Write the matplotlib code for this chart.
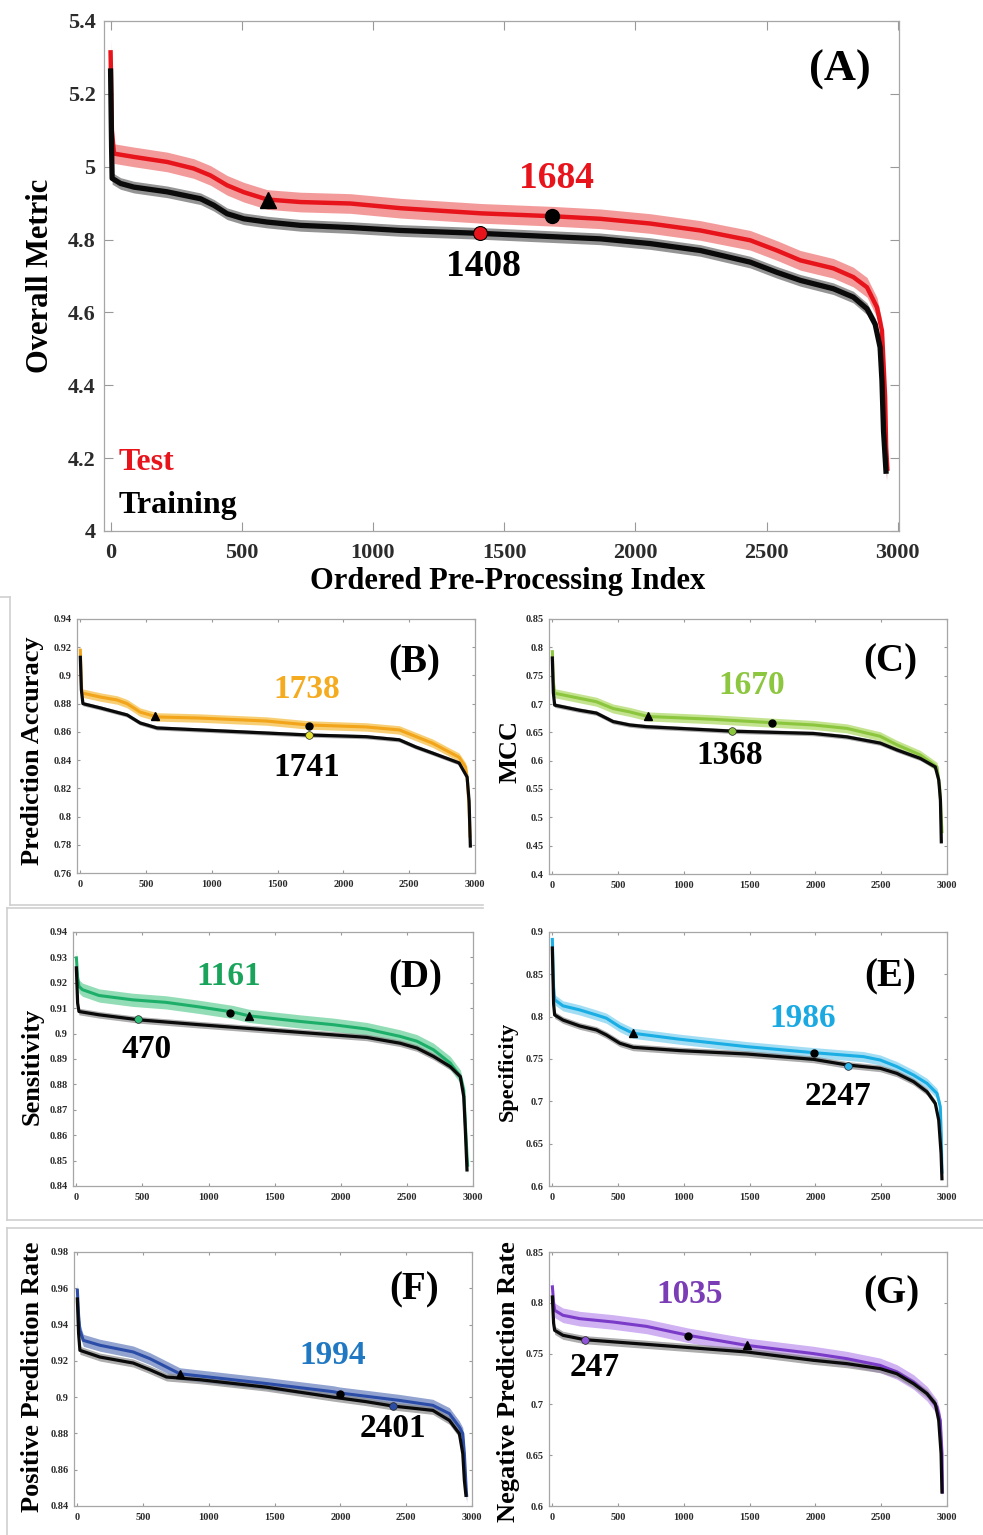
import numpy as np
import matplotlib.pyplot as plt
import matplotlib as mpl
from matplotlib.lines import Line2D
from matplotlib.ticker import FuncFormatter, MultipleLocator

mpl.rcParams['font.family'] = ['Liberation Serif', 'DejaVu Serif']
mpl.rcParams['font.weight'] = 'bold'
mpl.rcParams['axes.labelweight'] = 'bold'

W, H = 983, 1535

# ---- (A) overall metric ----
a_test_idx = [0, 5, 13, 88, 216, 317, 381, 444, 508, 597, 724, 914, 1107, 1412, 1687, 1867,
              2057, 2248, 2438, 2540, 2629, 2755, 2831, 2883, 2921, 2940, 2946, 2952, 2956, 2961]
a_test_val = [5.32, 5.10, 5.036, 5.027, 5.013, 4.995, 4.976, 4.949, 4.93, 4.910, 4.903, 4.899,
              4.886, 4.872, 4.864, 4.857, 4.844, 4.825, 4.798, 4.770, 4.743, 4.721, 4.697, 4.669,
              4.614, 4.55, 4.46, 4.367, 4.229, 4.165]
a_train_idx = [0, 4, 6, 38, 89, 216, 343, 394, 444, 508, 597, 724, 914, 1105, 1410, 1867, 2057,
               2248, 2438, 2540, 2629, 2755, 2831, 2883, 2914, 2933, 2940, 2946, 2956]
a_train_val = [5.27, 5.05, 4.968, 4.954, 4.944, 4.931, 4.912, 4.894, 4.871, 4.857, 4.848, 4.839,
               4.833, 4.825, 4.817, 4.802, 4.789, 4.77, 4.738, 4.710, 4.688, 4.665, 4.642, 4.61,
               4.568, 4.504, 4.413, 4.275, 4.157]
a_err = [0.027, 0.016]

# ---- (B) prediction accuracy ----
b_test_idx = [0, 8, 12, 152, 280, 356, 455, 583, 909, 1414, 1735, 2172, 2424, 2677, 2879, 2929,
              2940, 2955, 2962]
b_test_val = [0.919, 0.895, 0.8876, 0.8847, 0.8826, 0.880, 0.874, 0.8706, 0.8698, 0.8677, 0.8649,
              0.8635, 0.8614, 0.852, 0.842, 0.835, 0.828, 0.807, 0.785]
b_train_idx = [0, 8, 20, 152, 356, 455, 583, 909, 1735, 2172, 2424, 2550, 2677, 2879, 2940, 2955,
               2965]
b_train_val = [0.914, 0.89, 0.880, 0.877, 0.872, 0.8663, 0.8628, 0.8614, 0.8578, 0.8566, 0.8544,
               0.8493, 0.845, 0.838, 0.828, 0.811, 0.778]
b_err = [0.003, 0.0015]

# ---- (C) MCC ----
c_test_idx = [0, 8, 18, 208, 335, 462, 589, 726, 1223, 1673, 1985, 2238, 2492, 2619, 2797, 2924,
              2944, 2950, 2962]
c_test_val = [0.795, 0.74, 0.719, 0.710, 0.704, 0.692, 0.686, 0.678, 0.673, 0.667, 0.663, 0.657,
              0.643, 0.628, 0.610, 0.589, 0.554, 0.531, 0.472]
c_train_idx = [0, 8, 18, 208, 335, 462, 589, 716, 1376, 1985, 2238, 2492, 2619, 2797, 2911, 2937,
               2950, 2957]
c_train_val = [0.784, 0.72, 0.698, 0.689, 0.684, 0.669, 0.663, 0.660, 0.652, 0.648, 0.642, 0.631,
               0.619, 0.604, 0.589, 0.566, 0.531, 0.454]
c_err = [0.008, 0.004]

# ---- (D) sensitivity ----
d_test_idx = [0, 10, 20, 46, 172, 425, 678, 931, 1184, 1305, 1690, 1943, 2196, 2449, 2576, 2702,
              2828, 2904, 2930, 2942, 2955, 2960]
d_test_val = [0.9304, 0.922, 0.9186, 0.9173, 0.915, 0.9133, 0.9123, 0.9105, 0.9085, 0.907, 0.9048,
              0.9035, 0.9018, 0.8989, 0.897, 0.8936, 0.8884, 0.8831, 0.8778, 0.8647, 0.8516,
              0.8476]
d_train_idx = [0, 10, 20, 172, 476, 931, 1437, 1943, 2196, 2449, 2576, 2702, 2828, 2904, 2930,
               2942, 2955]
d_train_val = [0.9265, 0.912, 0.9087, 0.9074, 0.9054, 0.9035, 0.9015, 0.8995, 0.8985, 0.8962,
               0.8943, 0.891, 0.887, 0.8831, 0.8752, 0.8621, 0.8457]
d_err = [0.0026, 0.0013]

# ---- (E) specificity ----
e_test_idx = [0, 10, 18, 81, 208, 335, 411, 513, 614, 970, 1477, 1985, 2365, 2492, 2619, 2746,
              2848, 2924, 2949, 2956, 2962]
e_test_val = [0.893, 0.835, 0.820, 0.8128, 0.808, 0.802, 0.7982, 0.788, 0.7804, 0.7733, 0.7646,
              0.7575, 0.7528, 0.7488, 0.741, 0.731, 0.7212, 0.7093, 0.6936, 0.662, 0.6146]
e_train_idx = [0, 10, 18, 81, 208, 335, 411, 513, 614, 970, 1477, 1985, 2239, 2492, 2619, 2746,
               2848, 2911, 2937, 2955, 2962]
e_train_val = [0.883, 0.815, 0.802, 0.796, 0.789, 0.7843, 0.7784, 0.7686, 0.7638, 0.7599, 0.7559,
               0.7496, 0.743, 0.739, 0.733, 0.7232, 0.7113, 0.6975, 0.6778, 0.6383, 0.6067]
e_err = [0.006, 0.004]

# ---- (F) positive prediction rate ----
f_test_idx = [0, 10, 20, 46, 172, 425, 552, 678, 779, 1437, 1943, 1994, 2449, 2702, 2828, 2904,
              2930, 2942, 2955, 2960]
f_test_val = [0.9598, 0.945, 0.9368, 0.9313, 0.9286, 0.9249, 0.9212, 0.9166, 0.9129, 0.9075,
              0.903, 0.9023, 0.8982, 0.8955, 0.8909, 0.8835, 0.8799, 0.8689, 0.8505, 0.845]
f_train_idx = [0, 10, 20, 172, 425, 552, 678, 931, 1437, 1943, 2196, 2398, 2702, 2828, 2904, 2930,
               2942, 2955]
f_train_val = [0.955, 0.935, 0.9258, 0.9221, 0.9188, 0.9151, 0.9111, 0.9096, 0.9055, 0.900,
               0.8975, 0.8951, 0.8927, 0.8872, 0.8799, 0.8688, 0.8541, 0.845]
f_err = [0.0033, 0.0022]

# ---- (G) negative prediction rate ----
g_test_idx = [0, 10, 18, 81, 208, 462, 716, 1033, 1477, 1985, 2239, 2492, 2619, 2746, 2848, 2924,
              2949, 2962, 2966]
g_test_val = [0.8172, 0.80, 0.7926, 0.7877, 0.7844, 0.7811, 0.7768, 0.768, 0.7581, 0.75, 0.745,
              0.7384, 0.7319, 0.722, 0.7106, 0.6974, 0.6843, 0.6515, 0.6122]
g_train_idx = [0, 10, 18, 81, 246, 716, 1477, 1985, 2239, 2492, 2619, 2746, 2848, 2911, 2937,
               2955, 2962]
g_train_val = [0.8073, 0.78, 0.7729, 0.768, 0.7637, 0.7591, 0.7516, 0.7434, 0.7401, 0.7352,
               0.7302, 0.7204, 0.7106, 0.7007, 0.6843, 0.6515, 0.6122]
g_err = [0.0072, 0.004]

# best-point markers: (triangle idx, val), (test best idx, val), (train best idx, val)
a_marks = [(600, 4.91), (1684, 4.864), (1408, 4.817)]
b_marks = [(570, 0.8715), (1738, 0.8642), (1741, 0.8578)]
c_marks = [(726, 0.678), (1670, 0.666), (1368, 0.652)]
d_marks = [(1305, 0.907), (1161, 0.908), (470, 0.9057)]
e_marks = [(614, 0.7804), (1986, 0.7575), (2247, 0.742)]
f_marks = [(779, 0.9126), (1994, 0.9019), (2401, 0.8951)]
g_marks = [(1477, 0.7581), (1035, 0.767), (247, 0.7637)]


def box(l, t, r, b):
    return [l / W, 1 - b / H, (r - l) / W, (b - t) / H]


def fmt(v, p):
    return f'{round(v, 4):g}'


def style(ax, xlim, ylim, ystep, tsize, tlen, pad_y, pad_x):
    ax.set_xlim(*xlim)
    ax.set_ylim(*ylim)
    ax.xaxis.set_major_locator(MultipleLocator(500))
    ax.yaxis.set_major_locator(MultipleLocator(ystep))
    ax.yaxis.set_major_formatter(FuncFormatter(fmt))
    ax.tick_params(direction='in', top=True, right=True, length=tlen, width=0.8,
                   color='#999999', labelsize=tsize, labelcolor='#2b2b2b')
    ax.tick_params(axis='y', pad=pad_y)
    ax.tick_params(axis='x', pad=pad_x)
    for s in ax.spines.values():
        s.set_color('#a6a6a6')
        s.set_linewidth(0.9)


def curve(ax, x, y, err, line_c, band_c, lw, band_alpha):
    x = np.array(x)
    y = np.array(y)
    ax.fill_between(x, y - err, y + err, color=band_c, alpha=band_alpha, lw=0, zorder=2)
    ax.plot(x, y, color=line_c, lw=lw, solid_joinstyle='round', solid_capstyle='butt', zorder=3)


fig = plt.figure(figsize=(W / 100, H / 100), dpi=100)

# frame lines left over from the pasted sub-figures
frame = [((10, 597), (10, 905)), ((0, 597), (10, 597)), ((10, 905), (483, 905)),
         ((7, 908), (483, 908)), ((7, 908), (7, 1220)), ((7, 1220), (983, 1220)),
         ((7, 1228), (983, 1228)), ((7, 1228), (7, 1535))]
for (x0, y0), (x1, y1) in frame:
    fig.add_artist(Line2D([x0 / W, x1 / W], [1 - y0 / H, 1 - y1 / H], color='#cfcfcf', lw=1.2,
                          transform=fig.transFigure))

# ---- panel A ----
ax = fig.add_axes(box(104, 21, 899, 531))
style(ax, (-25, 3005), (4, 5.4), 0.2, 16, 6.5, 6, 9)
curve(ax, a_test_idx, a_test_val, a_err[0], '#e8141c', '#f28a8a', 3.2, 0.85)
curve(ax, a_train_idx, a_train_val, a_err[1], '#0a0a0a', '#7a7a7a', 3.8, 0.8)
ax.plot(*a_marks[0], marker='^', ms=11, color='black', zorder=5)
ax.plot(*a_marks[1], marker='o', ms=10, color='black', zorder=5)
ax.plot(*a_marks[2], marker='o', ms=10, mfc='#e8141c', mec='black', mew=0.8, zorder=5)
ax.text(1699, 4.968, '1684', color='#e8141c', fontsize=27, ha='center', va='center')
ax.text(1421, 4.726, '1408', color='black', fontsize=27, ha='center', va='center')
ax.text(2781, 5.265, '(A)', color='black', fontsize=32, ha='center', va='center')
ax.text(30, 4.187, 'Test', color='#e8141c', fontsize=23, ha='left', va='center')
ax.text(30, 4.069, 'Training', color='black', fontsize=23, ha='left', va='center')
ax.set_ylabel('Overall Metric', fontsize=22, va='center')
ax.yaxis.set_label_coords(-0.08, 0.5)
ax.set_xlabel('Ordered Pre-Processing Index', fontsize=22, va='center')
ax.xaxis.set_label_coords(0.508, -0.1)

# ---- small panels ----
panels = [
    # (rect, ylim, step, ylabel, ysize, label coords, test, train, err, marks, colours, texts)
    ((77, 619, 475, 873), (0.76, 0.94), 0.02, 'Prediction Accuracy', 19, (-0.113, 0.48),
     (b_test_idx, b_test_val), (b_train_idx, b_train_val), b_err, b_marks,
     ('#f2a51a', '#f7c65c', '#f4ab1f', '#e6e232'),
     [('1738', 1720, 0.8897, 'c'), ('1741', 1720, 0.835, 'k'), ('(B)', 2538, 0.909, 'k')]),
    ((549, 619, 947, 874), (0.4, 0.85), 0.05, 'MCC', 19, (-0.098, 0.482),
     (c_test_idx, c_test_val), (c_train_idx, c_train_val), c_err, c_marks,
     ('#8cc63e', '#b9df7c', '#8dc63f', '#8cc63e'),
     [('1670', 1515, 0.732, 'c'), ('1368', 1350, 0.610, 'k'), ('(C)', 2568, 0.775, 'k')]),
    ((73, 932, 473, 1186), (0.84, 0.94), 0.01, 'Sensitivity', 19, (-0.1025, 0.472),
     (d_test_idx, d_test_val), (d_train_idx, d_train_val), d_err, d_marks,
     ('#1daf6a', '#7fd7a9', '#1aa35b', '#2dbe78'),
     [('1161', 1154, 0.9223, 'c'), ('470', 534, 0.8936, 'k'), ('(D)', 2563, 0.9219, 'k')]),
    ((549, 932, 947, 1186), (0.6, 0.9), 0.05, 'Specificity', 16, (-0.103, 0.453),
     (e_test_idx, e_test_val), (e_train_idx, e_train_val), e_err, e_marks,
     ('#1aaee5', '#92d8f3', '#1ba9e1', '#2ab4ea'),
     [('1986', 1904, 0.798, 'c'), ('2247', 2175, 0.7054, 'k'), ('(E)', 2568, 0.8475, 'k')]),
    ((74, 1252, 472, 1506), (0.84, 0.98), 0.02, 'Positive Prediction Rate', 19, (-0.1055, 0.508),
     (f_test_idx, f_test_val), (f_train_idx, f_train_val), f_err, f_marks,
     ('#2b4da8', '#7f93c8', '#1f78c1', '#2b4da8'),
     [('1994', 1943, 0.923, 'c'), ('2401', 2398, 0.8826, 'k'), ('(F)', 2563, 0.9589, 'k')]),
    ((549, 1252, 947, 1506), (0.6, 0.85), 0.05, 'Negative Prediction Rate', 19, (-0.103, 0.488),
     (g_test_idx, g_test_val), (g_train_idx, g_train_val), g_err, g_marks,
     ('#7a3bc8', '#c8a4f0', '#7b3db6', '#8e55d8'),
     [('1035', 1046, 0.8083, 'c'), ('247', 322, 0.7368, 'k'), ('(G)', 2581, 0.809, 'k')]),
]

for rect, ylim, step, ylab, ysize, lc, test, train, err, marks, cols, texts in panels:
    ax = fig.add_axes(box(*rect))
    style(ax, (-25, 3000), ylim, step, 7.5, 2.5, 4, 5)
    line_c, band_c, text_c, dot_c = cols
    curve(ax, test[0], test[1], err[0], line_c, band_c, 2.2, 0.85)
    curve(ax, train[0], train[1], err[1], '#0a0a0a', '#8a8a8a', 2.3, 0.7)
    ax.plot(*marks[0], marker='^', ms=6, color='black', zorder=5)
    ax.plot(*marks[1], marker='o', ms=5, color='black', zorder=5)
    ax.plot(*marks[2], marker='o', ms=5.5, mfc=dot_c, mec='#222222', mew=0.5, zorder=5)
    for s, x, y, c in texts:
        size = 28 if s.startswith('(') else 24
        ax.text(x, y, s, color=text_c if c == 'c' else 'black', fontsize=size,
                ha='center', va='center', zorder=6)
    ax.set_ylabel(ylab, fontsize=ysize, va='center')
    ax.yaxis.set_label_coords(*lc)

fig.savefig('out.png', dpi=100)
